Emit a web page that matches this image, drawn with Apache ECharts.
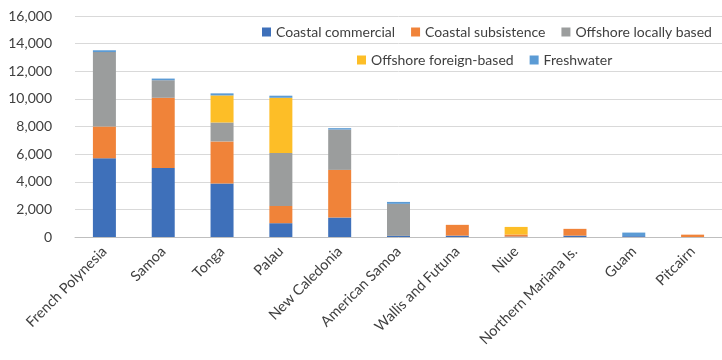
<!DOCTYPE html>
<html>
<head>
<meta charset="utf-8">
<script src="https://cdn.jsdelivr.net/npm/echarts@6/dist/echarts.min.js"></script>
<style>html,body{margin:0;padding:0;background:#fff;}#c{width:722px;height:360px;}</style>
</head>
<body>
<div id="c"></div>
<script>
const categories = ['French Polynesia', 'Samoa', 'Tonga', 'Palau', 'New Caledonia', 'American Samoa', 'Wallis and Futuna', 'Niue', 'Northern Mariana Is.', 'Guam', 'Pitcairn'];
const coastalCommercial  = [5700, 5000, 3880, 1000, 1410, 80, 100, 30, 100, 60, 0];
const coastalSubsistence = [2300, 5080, 3040, 1250, 3450, 0, 780, 150, 490, 0, 170];
const offshoreLocal      = [5390, 1270, 1370, 3830, 2920, 2320, 0, 0, 0, 0, 0];
const offshoreForeign    = [0, 0, 1960, 4000, 0, 0, 0, 550, 0, 0, 0];
const freshwater         = [130, 120, 150, 150, 100, 140, 0, 0, 0, 260, 0];
const yTicks = [0, 2000, 4000, 6000, 8000, 10000, 12000, 14000, 16000];

const seriesDefs = [
  ['Coastal commercial', coastalCommercial, '#3e70ba'],
  ['Coastal subsistence', coastalSubsistence, '#f08339'],
  ['Offshore locally based', offshoreLocal, '#9b9d9d'],
  ['Offshore foreign-based', offshoreForeign, '#fdbe27'],
  ['Freshwater', freshwater, '#5b9bd5']
];

const font = 'Lato, "Open Sans", sans-serif';
const chart = echarts.init(document.getElementById('c'), null, {renderer: 'canvas'});
const legendCommon = {
  itemWidth: 9, itemHeight: 9, itemGap: 16, icon: 'rect',
  textStyle: {fontFamily: font, fontSize: 14, color: '#404040'},
  selectedMode: false
};
chart.setOption({
  animation: false,
  color: seriesDefs.map(d => d[2]),
  legend: [
    Object.assign({}, legendCommon, {data: seriesDefs.slice(0,3).map(d => d[0]), left: 257, top: 20}),
    Object.assign({}, legendCommon, {data: seriesDefs.slice(3).map(d => d[0]), left: 352, top: 48})
  ],
  grid: {left: 75, right: -9, top: 16, bottom: 123, containLabel: false},
  xAxis: {
    type: 'category', data: categories,
    axisLine: {lineStyle: {color: '#bfbfbf', width: 1}},
    axisTick: {show: false},
    axisLabel: {rotate: 45, interval: 0, margin: 12, fontFamily: font, fontSize: 14.5, color: '#404040'}
  },
  yAxis: {
    type: 'value', min: yTicks[0], max: yTicks[yTicks.length-1], interval: 2000,
    axisLine: {show: false}, axisTick: {show: false},
    splitLine: {lineStyle: {color: '#d9d9d9', width: 1}},
    axisLabel: {margin: 23, fontFamily: font, fontSize: 14, color: '#404040',
      formatter: v => v.toLocaleString('en-US')}
  },
  series: seriesDefs.map(d => ({
    name: d[0], type: 'bar', stack: 'total', data: d[1], barWidth: 23,
    itemStyle: {color: d[2]}
  }))
});
</script>
</body>
</html>
